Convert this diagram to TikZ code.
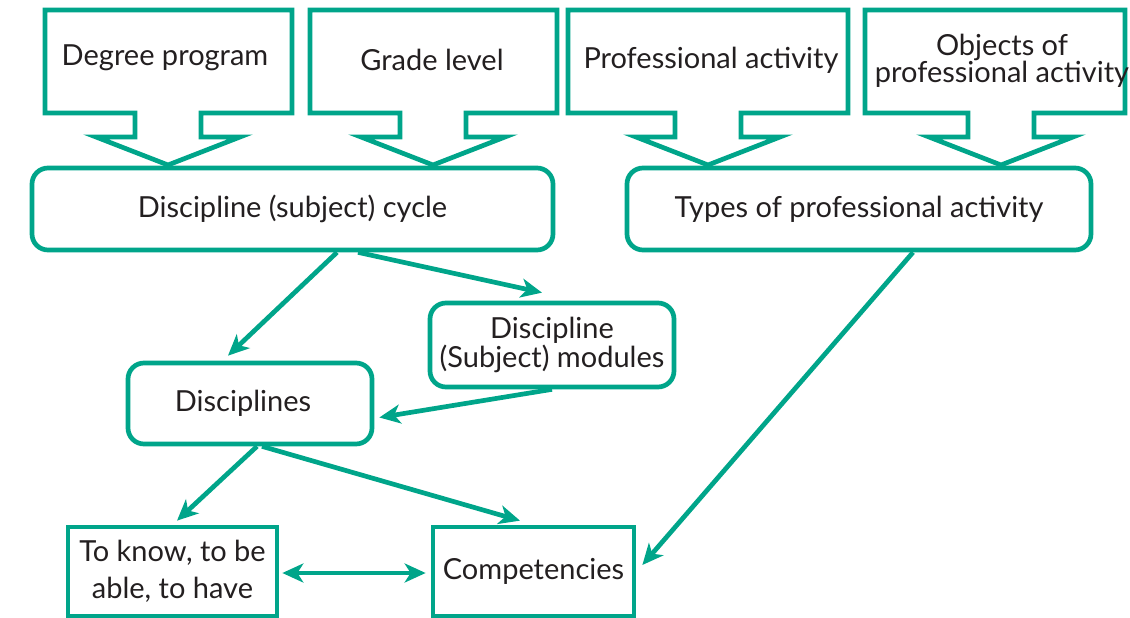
\documentclass[tikz,border=0pt]{standalone}
\usepackage{fontspec}
\setmainfont{Lato}
\usetikzlibrary{arrows.meta}
\definecolor{teal1}{RGB}{0,165,138}
\definecolor{txt}{RGB}{35,31,32}
\tikzset{
  lw/.style={line width=4.7pt, draw=teal1},
  rbox/.style={lw, rounded corners=16pt, align=center, text=txt, font=\fontsize{29pt}{29pt}\selectfont, inner sep=0pt},
  sbox/.style={lw, align=center, text=txt, font=\fontsize{29pt}{37pt}\selectfont, inner sep=0pt},
  lbl/.style={align=center, text=txt, font=\fontsize{29pt}{27pt}\selectfont, inner sep=0pt},
  conn/.style={lw, -{Stealth[length=21pt,width=19pt,inset=6pt]}},
  dconn/.style={lw, {Stealth[length=21pt,width=19pt,inset=6pt]}-{Stealth[length=21pt,width=19pt,inset=6pt]}},
  callout/.style={lw, line join=miter}
}
\newcommand{\mycallout}[4]{% left, right, stem center, point x
  \draw[callout] (#1,10) -- (#2,10) -- (#2,113) -- (#3+33,113) -- (#3+33,137) -- (#4+72,137)
    -- (#4,165) -- (#4-72,137) -- (#3-33,137) -- (#3-33,113) -- (#1,113) -- cycle;}
\begin{document}
\begin{tikzpicture}[x=1pt,y=-1pt]
\useasboundingbox (0,0) rectangle (1130,618);
% callouts
\mycallout{45}{292}{168}{168}
\mycallout{310}{557}{433}{433}
\mycallout{568}{848}{708}{708}
\mycallout{865}{1125}{1001}{1001}
\node[lbl] (c1) at (165,58) {Degree program};
\node[lbl] (c2) at (432,60) {Grade level};
\node[lbl] (c3) at (711,60) {Professional activity};
\node[lbl] (c4) at (1002,61) {Objects of\\professional activity};
% boxes
\node[rbox, minimum width=521pt, minimum height=82pt] (cycle) at (292.5,209) {Discipline (subject) cycle};
\node[rbox, minimum width=464pt, minimum height=82pt] (types) at (859,209) {\raisebox{3pt}{Types of professional activity}};
\node[rbox, minimum width=244pt, minimum height=84pt] (modules) at (552,345) {Discipline\\(Subject) modules};
\node[rbox, minimum width=244pt, minimum height=81pt] (disc) at (250,403.5) {\hspace*{-14pt}Disciplines};
\node[sbox, minimum width=209pt, minimum height=89pt] (know) at (172.5,571.5) {To know, to be\\able, to have};
\node[sbox, minimum width=201pt, minimum height=89pt] (comp) at (533.5,571.5) {Competencies};
% connectors
\draw[conn] ([xshift=44.5pt]cycle.south) -- ([xshift=-22pt,yshift=5pt]disc.north);
\draw[conn] ([xshift=65.5pt]cycle.south) -- ([xshift=-10pt,yshift=8pt]modules.north);
\draw[conn] (modules.south) -- ([xshift=5pt,yshift=-14pt]disc.east);
\draw[conn] ([xshift=7pt]disc.south) -- ([xshift=4.5pt,yshift=4pt]know.north);
\draw[conn] ([xshift=12pt]disc.south) -- ([xshift=-13.5pt,yshift=4pt]comp.north);
\draw[conn] ([xshift=54pt]types.south) -- ([xshift=6pt,yshift=6.5pt]comp.east);
\draw[dconn] ([xshift=3pt,yshift=-1.5pt]know.east) -- ([xshift=-5pt,yshift=-1.5pt]comp.west);
\end{tikzpicture}
\end{document}
